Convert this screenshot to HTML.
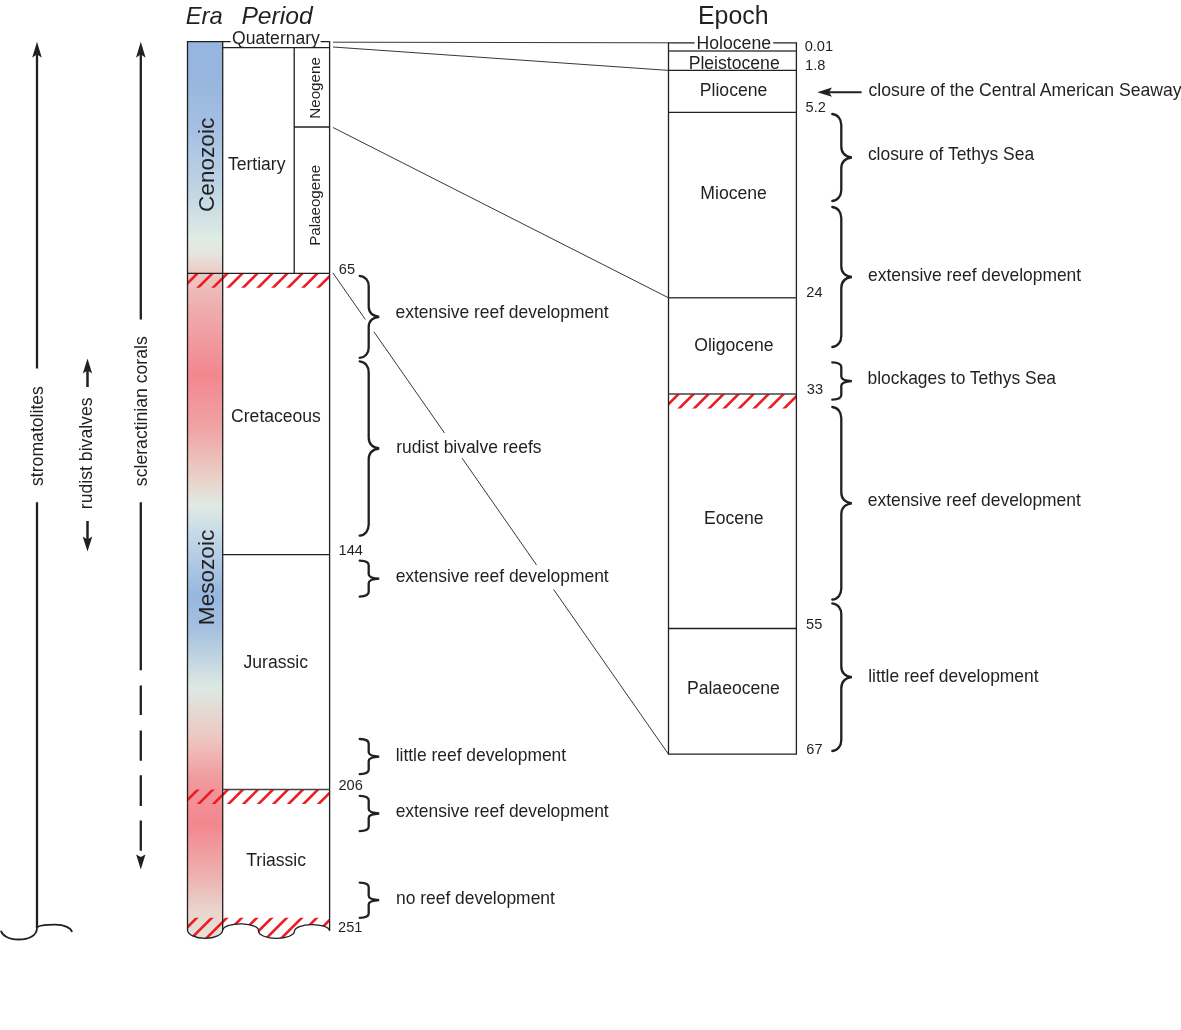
<!DOCTYPE html>
<html><head><meta charset="utf-8"><style>
html,body{margin:0;padding:0;background:#fff;width:1181px;height:1030px;overflow:hidden}
svg{display:block;will-change:transform}
text{font-family:"Liberation Sans",sans-serif;fill:#231f20}
</style></head><body>
<svg width="1181" height="1030" viewBox="0 0 1181 1030">
<defs>
<linearGradient id="eg" x1="0" y1="41.7" x2="0" y2="940" gradientUnits="userSpaceOnUse"><stop offset="0.0003" stop-color="#97b6df"/><stop offset="0.0426" stop-color="#97b5de"/><stop offset="0.0983" stop-color="#a5c0e2"/><stop offset="0.1540" stop-color="#bbd1e4"/><stop offset="0.2041" stop-color="#d5e5e5"/><stop offset="0.2208" stop-color="#e0ece4"/><stop offset="0.2374" stop-color="#e6e4dc"/><stop offset="0.2564" stop-color="#eaccc6"/><stop offset="0.2875" stop-color="#efb2b2"/><stop offset="0.3710" stop-color="#f2878f"/><stop offset="0.4323" stop-color="#f0a5a5"/><stop offset="0.4879" stop-color="#e8d3ca"/><stop offset="0.5158" stop-color="#e0eae2"/><stop offset="0.5436" stop-color="#c8dce8"/><stop offset="0.6159" stop-color="#97b6df"/><stop offset="0.6549" stop-color="#a6c0e0"/><stop offset="0.7195" stop-color="#dde9e3"/><stop offset="0.7774" stop-color="#eec5bf"/><stop offset="0.8219" stop-color="#f1999c"/><stop offset="0.8720" stop-color="#f2878f"/><stop offset="0.9332" stop-color="#edb5b2"/><stop offset="0.9666" stop-color="#e8d5cd"/><stop offset="1.0000" stop-color="#e3e3d8"/></linearGradient>
<clipPath id="c65"><rect x="187.5" y="273.3" width="142.10000000000002" height="14.5"/></clipPath>
<clipPath id="c206"><rect x="187.5" y="789.5" width="142.10000000000002" height="14.5"/></clipPath>
<clipPath id="c33"><rect x="668.5" y="394" width="127.89999999999998" height="14.5"/></clipPath>
<clipPath id="cbot"><path d="M187.5,917.7 L329.6,917.7 L329.6,930.5 A17.6,6.6 0 0 0 294.5,931 A18,7.4 0 0 1 258.5,931 A17.9,6.6 0 0 0 222.7,930 A17.6,8.4 0 0 1 187.5,930 Z"/></clipPath>
</defs>
<rect width="1181" height="1030" fill="#fff"/>

<path d="M187.5,41.7 L222.7,41.7 L222.7,930 A17.6,8.4 0 0 1 187.5,930 Z" fill="url(#eg)"/>
<g stroke="#ed1c24" stroke-width="2.6" fill="none">
<path clip-path="url(#c65)" d="M151.00,289.80L169.50,271.30M166.00,289.80L184.50,271.30M181.00,289.80L199.50,271.30M196.00,289.80L214.50,271.30M211.00,289.80L229.50,271.30M226.00,289.80L244.50,271.30M241.00,289.80L259.50,271.30M256.00,289.80L274.50,271.30M271.00,289.80L289.50,271.30M286.00,289.80L304.50,271.30M301.00,289.80L319.50,271.30M316.00,289.80L334.50,271.30M331.00,289.80L349.50,271.30"/>
<path clip-path="url(#c206)" d="M151.50,806.00L170.00,787.50M166.50,806.00L185.00,787.50M181.50,806.00L200.00,787.50M196.50,806.00L215.00,787.50M211.50,806.00L230.00,787.50M226.50,806.00L245.00,787.50M241.50,806.00L260.00,787.50M256.50,806.00L275.00,787.50M271.50,806.00L290.00,787.50M286.50,806.00L305.00,787.50M301.50,806.00L320.00,787.50M316.50,806.00L335.00,787.50M331.50,806.00L350.00,787.50"/>
<path clip-path="url(#c33)" d="M632.10,410.50L650.60,392.00M647.10,410.50L665.60,392.00M662.10,410.50L680.60,392.00M677.10,410.50L695.60,392.00M692.10,410.50L710.60,392.00M707.10,410.50L725.60,392.00M722.10,410.50L740.60,392.00M737.10,410.50L755.60,392.00M752.10,410.50L770.60,392.00M767.10,410.50L785.60,392.00M782.10,410.50L800.60,392.00M797.10,410.50L815.60,392.00"/>
<path clip-path="url(#cbot)" d="M142.60,942.00L168.90,915.70M157.60,942.00L183.90,915.70M172.60,942.00L198.90,915.70M187.60,942.00L213.90,915.70M202.60,942.00L228.90,915.70M217.60,942.00L243.90,915.70M232.60,942.00L258.90,915.70M247.60,942.00L273.90,915.70M262.60,942.00L288.90,915.70M277.60,942.00L303.90,915.70M292.60,942.00L318.90,915.70M307.60,942.00L333.90,915.70M322.60,942.00L348.90,915.70M337.60,942.00L363.90,915.70"/>
</g>
<g stroke="#231f20" stroke-width="1.3" fill="none">
<path d="M187.5,41.7 L187.5,930 A17.6,8.4 0 0 0 222.7,930 L222.7,41.7 Z"/>
<path d="M222.7,41.7 L230.7,41.7 M320.6,41.7 L329.6,41.7 L329.6,931"/>
<path d="M222.7,47.7 L329.6,47.7 M294.2,47.7 L294.2,273.3 M294.2,127 L329.6,127"/>
<path d="M187.5,273.3 L329.6,273.3 M222.7,554.7 L329.6,554.7"/>
<path stroke="#444" stroke-width="1.5" d="M222.7,789.5 L329.6,789.5"/>
<path d="M222.7,930 A17.9,6.6 0 0 1 258.5,931 A18,7.4 0 0 0 294.5,931 A17.6,6.6 0 0 1 329.6,930.5"/>
<path d="M694.6,42.8 L668.5,42.8 L668.5,754.2 L796.4,754.2 L796.4,42.8 L773.2,42.8"/>
<path stroke="#444" stroke-width="1.5" d="M668.5,50.9 L796.4,50.9"/>
<path d="M668.5,70.4 L796.4,70.4"/>
<path d="M668.5,112.4 L796.4,112.4"/>
<path stroke="#444" stroke-width="1.5" d="M668.5,297.8 L796.4,297.8"/>
<path stroke="#444" stroke-width="1.5" d="M668.5,394 L796.4,394"/>
<path d="M668.5,628.5 L796.4,628.5"/>
</g>
<g stroke="#231f20" stroke-width="0.9" fill="none">
<path d="M333,42.2 L668.5,42.8 M333,47 L668.5,70.4 M333,127.5 L668.5,297.8"/>
<path d="M332.90,272.9 L365.39,319.5"/>
<path d="M373.90,331.7 L444.53,433"/>
<path d="M461.97,458 L536.57,565"/>
<path d="M553.66,589.5 L668.50,754.2"/>
</g>
<g stroke="#231f20" stroke-width="2.3" fill="none" stroke-linecap="round">
<path d="M359.70,275.80 C365.10,276.31 368.70,280.42 368.70,286.06 L368.70,306.59 C368.70,312.23 372.38,316.03 379.20,316.85 C372.38,317.67 368.70,321.47 368.70,327.11 L368.70,347.64 C368.70,353.28 365.10,357.39 359.70,357.90"/>
<path d="M359.70,361.40 C365.10,361.95 368.70,366.35 368.70,372.40 L368.70,437.50 C368.70,443.55 372.38,447.62 379.20,448.50 C372.38,449.38 368.70,453.45 368.70,459.50 L368.70,524.60 C368.70,530.65 365.10,535.05 359.70,535.60"/>
<path d="M359.70,560.70 C365.10,560.92 368.70,562.72 368.70,565.19 L368.70,574.16 C368.70,576.63 372.38,578.29 379.20,578.65 C372.38,579.01 368.70,580.67 368.70,583.14 L368.70,592.11 C368.70,594.58 365.10,596.38 359.70,596.60"/>
<path d="M359.70,739.00 C365.10,739.22 368.70,740.98 368.70,743.40 L368.70,752.20 C368.70,754.62 372.38,756.25 379.20,756.60 C372.38,756.95 368.70,758.58 368.70,761.00 L368.70,769.80 C368.70,772.22 365.10,773.98 359.70,774.20"/>
<path d="M359.70,795.90 C365.10,796.12 368.70,797.88 368.70,800.30 L368.70,809.10 C368.70,811.52 372.38,813.15 379.20,813.50 C372.38,813.85 368.70,815.48 368.70,817.90 L368.70,826.70 C368.70,829.12 365.10,830.88 359.70,831.10"/>
<path d="M359.70,882.60 C365.10,882.82 368.70,884.58 368.70,887.00 L368.70,895.80 C368.70,898.22 372.38,899.85 379.20,900.20 C372.38,900.55 368.70,902.18 368.70,904.60 L368.70,913.40 C368.70,915.82 365.10,917.58 359.70,917.80"/>
<path d="M832.30,114.00 C837.70,114.54 841.30,118.89 841.30,124.88 L841.30,146.62 C841.30,152.61 844.97,156.63 851.80,157.50 C844.97,158.37 841.30,162.39 841.30,168.38 L841.30,190.12 C841.30,196.11 837.70,200.46 832.30,201.00"/>
<path d="M832.30,207.00 C837.70,207.55 841.30,211.95 841.30,218.00 L841.30,266.00 C841.30,272.05 844.97,276.12 851.80,277.00 C844.97,277.88 841.30,281.95 841.30,288.00 L841.30,336.00 C841.30,342.05 837.70,346.45 832.30,347.00"/>
<path d="M832.30,362.40 C837.70,362.63 841.30,364.50 841.30,367.06 L841.30,376.39 C841.30,378.95 844.97,380.68 851.80,381.05 C844.97,381.42 841.30,383.15 841.30,385.71 L841.30,395.04 C841.30,397.60 837.70,399.47 832.30,399.70"/>
<path d="M832.30,407.00 C837.70,407.55 841.30,411.95 841.30,418.00 L841.30,492.30 C841.30,498.35 844.97,502.42 851.80,503.30 C844.97,504.18 841.30,508.25 841.30,514.30 L841.30,588.60 C841.30,594.65 837.70,599.05 832.30,599.60"/>
<path d="M832.30,603.30 C837.70,603.85 841.30,608.25 841.30,614.30 L841.30,666.15 C841.30,672.20 844.97,676.27 851.80,677.15 C844.97,678.03 841.30,682.10 841.30,688.15 L841.30,740.00 C841.30,746.05 837.70,750.45 832.30,751.00"/>
</g>
<g stroke="#231f20" stroke-width="2.3" fill="none">
<path d="M37,52 L37,368.4 M37,502.3 L37,928"/>
<path stroke-width="1.8" d="M1,930.7 C2,935 8,939.5 18.6,939.5 C28,939.5 37,936 37,928 C38,925.5 46,924.7 55,924.7 C65,924.7 71,928 72,932"/>
<path d="M140.8,52 L140.8,319.6 M140.8,502.3 L140.8,670.3"/>
<path d="M140.8,685.5 L140.8,715 M140.8,730.4 L140.8,760.7 M140.8,775.2 L140.8,806 M140.8,820.6 L140.8,850.7"/>
<path stroke-width="2.5" d="M87.5,368 L87.5,387.1 M87.5,521.1 L87.5,541"/>
<path stroke-width="2.1" d="M861.6,92.2 L826,92.2"/>
</g>
<g fill="#231f20">
<path d="M37,41.8 L41.8,57.8 L37,54.3 L32.2,57.8 Z"/>
<path d="M140.8,41.8 L145.60000000000002,57.8 L140.8,54.3 L136.0,57.8 Z"/>
<path d="M140.8,869.5 L145.45000000000002,854.5 L140.8,857.0 L136.15,854.5 Z"/>
<path d="M87.5,358.5 L92.15,373.5 L87.5,370.5 L82.85,373.5 Z"/>
<path d="M87.5,551.5 L92.3,536.4 L87.5,539.4 L82.7,536.4 Z"/>
<path d="M817.2,92.2 L832.0,87.60000000000001 L829.0,92.2 L832.0,96.8 Z"/>
</g>
<text x="185.65" y="23.69" font-size="23.77" font-style="italic">Era</text>
<text x="241.44" y="24.29" font-size="24.65" font-style="italic">Period</text>
<text x="697.97" y="24.33" font-size="24.87">Epoch</text>
<text x="232.06" y="43.88" font-size="17.57">Quaternary</text>
<text x="227.91" y="170.32" font-size="17.57">Tertiary</text>
<text x="231.09" y="422.38" font-size="17.57">Cretaceous</text>
<text x="243.56" y="668.38" font-size="17.57">Jurassic</text>
<text x="246.21" y="866.26" font-size="17.57">Triassic</text>
<text x="696.58" y="48.81" font-size="17.62">Holocene</text>
<text x="688.67" y="68.57" font-size="17.62">Pleistocene</text>
<text x="699.78" y="95.98" font-size="17.62">Pliocene</text>
<text x="700.30" y="198.79" font-size="17.62">Miocene</text>
<text x="694.26" y="350.76" font-size="17.62">Oligocene</text>
<text x="703.93" y="523.81" font-size="17.62">Eocene</text>
<text x="686.90" y="694.33" font-size="17.62">Palaeocene</text>
<text x="804.63" y="50.76" font-size="14.60">0.01</text>
<text x="805.10" y="70.24" font-size="14.60">1.8</text>
<text x="805.57" y="111.73" font-size="14.60">5.2</text>
<text x="806.35" y="297.36" font-size="14.60">24</text>
<text x="806.79" y="393.84" font-size="14.60">33</text>
<text x="806.05" y="628.65" font-size="14.60">55</text>
<text x="806.35" y="753.88" font-size="14.60">67</text>
<text x="338.80" y="274.06" font-size="14.60">65</text>
<text x="338.54" y="554.53" font-size="14.60">144</text>
<text x="338.47" y="790.02" font-size="14.60">206</text>
<text x="338.11" y="931.99" font-size="14.60">251</text>
<text x="395.57" y="318.25" font-size="17.43">extensive reef development</text>
<text x="396.21" y="453.25" font-size="17.43">rudist bivalve reefs</text>
<text x="395.64" y="581.98" font-size="17.43">extensive reef development</text>
<text x="395.70" y="760.88" font-size="17.43">little reef development</text>
<text x="395.64" y="817.48" font-size="17.43">extensive reef development</text>
<text x="396.02" y="903.88" font-size="17.43">no reef development</text>
<text x="868.48" y="95.75" font-size="17.62">closure of the Central American Seaway</text>
<text x="867.88" y="160.34" font-size="17.43">closure of Tethys Sea</text>
<text x="868.07" y="280.98" font-size="17.43">extensive reef development</text>
<text x="867.50" y="384.08" font-size="17.43">blockages to Tethys Sea</text>
<text x="867.75" y="506.12" font-size="17.43">extensive reef development</text>
<text x="868.15" y="682.44" font-size="17.43">little reef development</text>
<text x="0" y="0" font-size="22.60" transform="translate(214.00,211.97) rotate(-90)">Cenozoic</text>
<text x="0" y="0" font-size="22.60" transform="translate(214.00,625.19) rotate(-90)">Mesozoic</text>
<text x="0" y="0" font-size="15.16" transform="translate(319.53,118.70) rotate(-90)">Neogene</text>
<text x="0" y="0" font-size="15.16" transform="translate(319.96,245.84) rotate(-90)">Palaeogene</text>
<text x="0" y="0" font-size="17.64" transform="translate(43.49,485.97) rotate(-90)">stromatolites</text>
<text x="0" y="0" font-size="17.64" transform="translate(92.48,509.15) rotate(-90)">rudist bivalves</text>
<text x="0" y="0" font-size="17.64" transform="translate(147.32,486.13) rotate(-90)">scleractinian corals</text>
</svg></body></html>
